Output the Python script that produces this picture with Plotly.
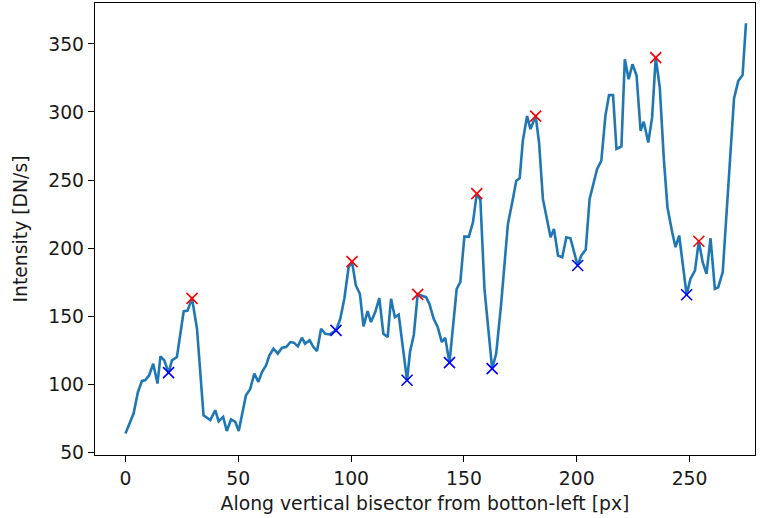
import plotly.graph_objects as go

# Intensity profile along the bisector
pos = [0, 3.6, 5.5, 7.3, 8.7, 10.5, 12.3, 14.2, 15.5, 17.2, 19.1, 20.6, 22.8, 25.8, 27.5, 29.5,
       31.7, 34.6, 37.6, 39.8, 41.3, 43.3, 44.9, 46.8, 48.7, 50.2, 53.4, 55.2, 57.1, 58.9, 60.5,
       62.3, 63.8, 65.6, 67.5, 69.4, 71.2, 73.1, 74.6, 76.4, 78.2, 79.6, 81.6, 83.3, 84.9, 86.7,
       88.6, 90.5, 93.3, 95.2, 97.0, 98.9, 100.4, 102.1, 103.9, 105.5, 107.3, 108.8, 110.7, 112.5,
       114.3, 116.2, 117.7, 119.4, 121.1, 124.8, 126.1, 127.8, 129.5, 131.5, 133.2, 134.7, 136.6,
       138.4, 140.2, 141.7, 143.6, 146.8, 148.4, 150.2, 152.2, 154.0, 155.7, 157.3, 159.1, 162.5,
       164.3, 166.5, 169.5, 171.7, 173.2, 174.7, 176.1, 178.0, 179.5, 181.8, 183.3, 185.0, 186.8,
       188.4, 189.9, 191.7, 193.6, 195.4, 197.2, 200.4, 202.0, 204.0, 205.7, 207.2, 209.0, 210.9,
       212.7, 214.3, 216.1, 217.6, 219.8, 221.3, 223.0, 224.7, 226.5, 228.3, 229.7, 231.7, 233.4,
       235.0, 236.8, 238.6, 240.2, 242.3, 243.8, 245.4, 248.7, 250.4, 252.4, 254.1, 255.8, 257.5,
       259.3, 261.2, 262.7, 264.7, 266.4, 267.9, 269.7, 271.6, 273.5, 275.0]
intensity = [63.7, 78.4, 94.0, 102.3, 102.8, 106.5, 115.0, 100.4, 120.4, 117.5, 108.4, 117.5,
             119.9, 153.4, 154.0, 163.0, 140.7, 77.0, 73.5, 80.8, 72.7, 75.9, 65.5, 74.0, 72.2,
             65.6, 91.8, 96.0, 107.7, 101.6, 108.9, 113.8, 121.2, 126.0, 122.4, 126.8, 127.2,
             130.9, 130.5, 127.7, 134.1, 129.7, 132.2, 127.2, 124.3, 140.7, 137.0, 136.5, 139.5,
             148.0, 162.7, 185.9, 190.0, 172.5, 166.4, 142.4, 153.6, 145.6, 152.9, 163.2, 137.0,
             134.6, 162.7, 149.2, 151.0, 102.8, 123.6, 136.3, 166.0, 164.6, 163.9, 159.0, 148.0,
             141.9, 130.9, 134.1, 115.8, 170.0, 174.9, 208.4, 208.4, 218.9, 240.0, 235.3, 170.0,
             111.4, 122.4, 159.0, 217.7, 236.0, 249.5, 251.2, 278.8, 297.0, 287.4, 297.0, 277.6,
             236.1, 221.4, 207.9, 214.1, 194.5, 193.3, 207.9, 207.2, 187.2, 194.5, 198.9, 236.1,
             245.8, 258.0, 264.2, 297.2, 312.4, 312.4, 272.8, 274.7, 338.8, 324.1, 335.1, 327.0,
             286.2, 292.8, 277.6, 296.0, 340.0, 318.0, 265.4, 229.9, 211.6, 200.6, 209.2, 165.7,
             177.4, 183.5, 205.0, 189.6, 181.1, 207.2, 170.0, 171.2, 182.3, 223.9, 267.8, 309.9,
             322.9, 327.1, 365.2]

peaks_x = [29.5, 100.4, 129.5, 155.7, 181.8, 235.0, 254.1]
peaks_y = [163.0, 190.0, 166.0, 240.0, 297.0, 340.0, 205.0]
valleys_x = [19.1, 93.3, 124.8, 143.6, 162.5, 200.4, 248.7]
valleys_y = [108.4, 139.5, 102.8, 115.8, 111.4, 187.2, 165.7]

fig = go.Figure()
fig.add_trace(go.Scatter(x=pos, y=intensity, mode="lines",
                         line=dict(color="#1f77b4", width=2.6), showlegend=False))
fig.add_trace(go.Scatter(x=peaks_x, y=peaks_y, mode="markers",
                         marker=dict(symbol="x-thin", size=11, line=dict(color="red", width=1.6)),
                         showlegend=False))
fig.add_trace(go.Scatter(x=valleys_x, y=valleys_y, mode="markers",
                         marker=dict(symbol="x-thin", size=11, line=dict(color="blue", width=1.6)),
                         showlegend=False))

font = dict(family="DejaVu Sans", size=18.8, color="#1a1a1a")
axis_common = dict(showline=True, linecolor="black", linewidth=1.3, mirror=True,
                   ticks="outside", ticklen=6, tickwidth=1.3, tickcolor="black",
                   showgrid=False, zeroline=False, tickfont=font)
fig.update_layout(
    width=765, height=518, margin=dict(l=95, r=10, t=3, b=63),
    plot_bgcolor="white", paper_bgcolor="white", font=font,
    xaxis=dict(range=[-13.5, 279], tickvals=[0, 50, 100, 150, 200, 250],
               title=dict(text="Along vertical bisector from botton-left [px]", font=font, standoff=9),
               **axis_common),
    yaxis=dict(range=[47.9, 380.1], tickvals=[50, 100, 150, 200, 250, 300, 350],
               title=dict(text="Intensity [DN/s]", font=font, standoff=15),
               **axis_common),
)
fig.write_html("out.html")
